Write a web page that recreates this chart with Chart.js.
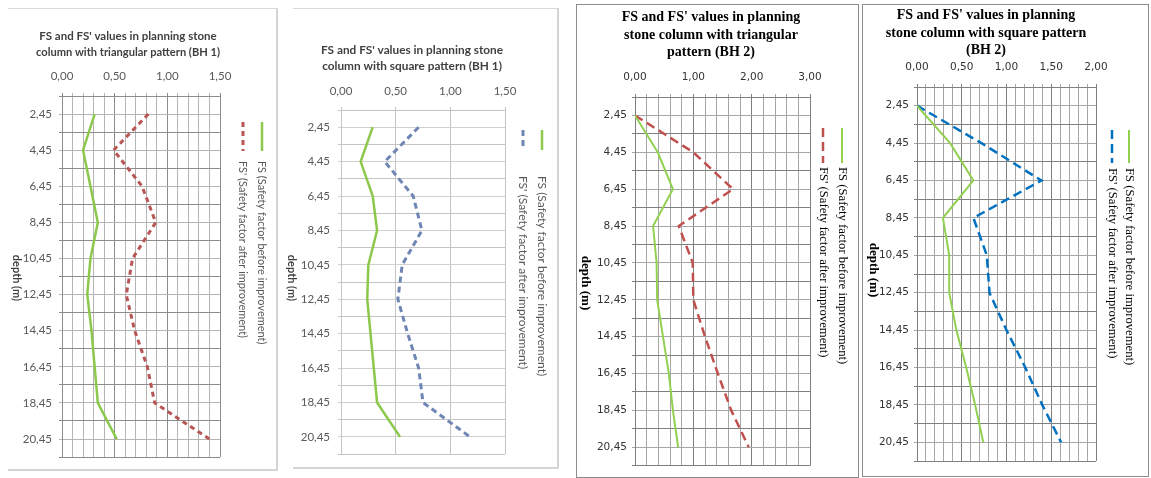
<!DOCTYPE html>
<html><head><meta charset="utf-8">
<script src="https://cdn.jsdelivr.net/npm/chart.js@4.4.1/dist/chart.umd.min.js"></script>
<style>
html,body{margin:0;padding:0;background:#fff;width:1151px;height:478px;overflow:hidden;position:relative}
.frame{position:absolute;box-sizing:border-box}
canvas{position:absolute}
</style></head><body>
<div class="frame" style="left:8px;top:8px;width:270px;height:463px;border-top:1px solid #d9d9d9;border-right:2px solid #d4d4d4;border-bottom:2px solid #d4d4d4"></div>
<div class="frame" style="left:293px;top:8px;width:266px;height:461px;border-top:1px solid #d9d9d9;border-right:2px solid #d4d4d4;border-bottom:2px solid #d4d4d4"></div>
<div class="frame" style="left:576px;top:4px;width:283px;height:474px;border:1.5px solid #8c8c8c"></div>
<div class="frame" style="left:862px;top:4px;width:287px;height:473px;border:1.5px solid #8c8c8c"></div>
<canvas id="c1" width="278" height="463" style="left:0;top:8px;filter:blur(0.45px)"></canvas>
<canvas id="c2" width="274" height="461" style="left:285px;top:8px;filter:blur(0.45px)"></canvas>
<canvas id="c3" width="282" height="472" style="left:577px;top:5px"></canvas>
<canvas id="c4" width="286" height="472" style="left:863px;top:5px"></canvas>
<script>
// ---- data ----
const depths = [2.45, 4.45, 6.45, 8.45, 10.45, 12.45, 14.45, 16.45, 18.45, 20.45];
const depthTickLabels = ['2,45','4,45','6,45','8,45','10,45','12,45','14,45','16,45','18,45','20,45'];
const seriesLabels = ['FS (Safety factor before improvement)', "FS' (Safety factor after improvement)"];
const axisTitle = 'depth (m)';

const fsBH1Tri      = [0.31, 0.20, 0.27, 0.34, 0.27, 0.24, 0.28, 0.31, 0.34, 0.52];
const fsPrimeBH1Tri = [0.82, 0.49, 0.76, 0.89, 0.67, 0.61, 0.69, 0.81, 0.88, 1.40];
const fsBH1Sq       = [0.29, 0.18, 0.29, 0.33, 0.25, 0.24, 0.27, 0.30, 0.33, 0.54];
const fsPrimeBH1Sq  = [0.71, 0.40, 0.66, 0.74, 0.56, 0.52, 0.61, 0.71, 0.75, 1.18];
const fsBH2Tri      = [0.00, 0.39, 0.65, 0.31, 0.37, 0.38, 0.48, 0.58, 0.65, 0.74];
const fsPrimeBH2Tri = [0.00, 1.00, 1.68, 0.75, 0.99, 1.00, 1.20, 1.42, 1.65, 1.95];
const fsBH2Sq       = [0.00, 0.37, 0.63, 0.29, 0.36, 0.36, 0.44, 0.55, 0.65, 0.74];
const fsPrimeBH2Sq  = [0.00, 0.72, 1.39, 0.63, 0.78, 0.81, 1.00, 1.21, 1.40, 1.61];

const xTicksBH1 = [0, 0.5, 1, 1.5];
const xTickLabelsBH1 = ['0,00', '0,50', '1,00', '1,50'];
const xTicksBH2Tri = [0, 1, 2, 3];
const xTickLabelsBH2Tri = ['0,00', '1,00', '2,00', '3,00'];
const xTicksBH2Sq = [0, 0.5, 1, 1.5, 2];
const xTickLabelsBH2Sq = ['0,00', '0,50', '1,00', '1,50', '2,00'];

const titles = [
  ["FS and FS' values in planning stone", 'column with triangular pattern (BH 1)'],
  ["FS and FS' values in planning stone", 'column with square pattern (BH 1)'],
  ["FS and FS' values in planning", 'stone column with triangular', 'pattern (BH 2)'],
  ["FS and FS' values in planning", 'stone column with square pattern', '(BH 2)']
];

// ---- helpers ----
const pts = (vals) => vals.map((v, i) => ({x: v, y: depths[i]}));
const near = (a, b) => Math.abs(a - b) < 1e-6;

const sideText = {
  id: 'sideText',
  afterLayout(chart) {
    // let the depth tick labels extend left of the (narrow) axis box without being clipped
    chart.scales.y.left = 0;
  },
  afterDraw(chart, args, o) {
    const ctx = chart.ctx;
    ctx.save();
    ctx.font = o.titleFont; ctx.fillStyle = o.titleColor;
    ctx.translate(o.titleX, o.titleY); ctx.rotate(Math.PI / 2);
    ctx.textAlign = 'center'; ctx.textBaseline = 'middle';
    ctx.fillText(o.axisTitle, 0, 0);
    ctx.restore();
    chart.data.datasets.forEach((ds, i) => {
      const x = o.legendX[i];
      ctx.save();
      ctx.strokeStyle = ds.borderColor; ctx.lineWidth = ds.borderWidth;
      ctx.setLineDash(ds.borderDash || []);
      ctx.beginPath(); ctx.moveTo(x, o.sampleY0); ctx.lineTo(x, o.sampleY1); ctx.stroke();
      ctx.setLineDash([]);
      ctx.translate(x, o.textY); ctx.rotate(Math.PI / 2);
      ctx.font = o.legendFont; ctx.fillStyle = o.legendColor;
      ctx.textAlign = 'left'; ctx.textBaseline = 'middle';
      ctx.fillText(ds.label, 0, 0);
      ctx.restore();
    });
  }
};

function build(id, p) {
  const xTickVals = [];
  for (let i = 0; i <= Math.round(p.xMax / p.xMinor); i++) xTickVals.push(Math.round(i * p.xMinor * 1000) / 1000);
  const yTickVals = [];
  for (let i = 0; i <= 20; i++) yTickVals.push(Math.round((1.45 + i) * 100) / 100);
  return new Chart(document.getElementById(id), {
    type: 'line',
    data: {
      datasets: [
        {label: seriesLabels[0], data: pts(p.fs), borderColor: p.green, borderWidth: p.gw, pointRadius: 0, fill: false, tension: 0},
        {label: seriesLabels[1], data: pts(p.fsp), borderColor: p.c2, borderWidth: p.dw, borderDash: p.dash, pointRadius: 0, fill: false, tension: 0}
      ]
    },
    options: {
      responsive: false, animation: false, devicePixelRatio: 1, indexAxis: 'y',
      layout: {padding: p.pad, autoPadding: false},
      plugins: {
        legend: {display: false}, tooltip: {enabled: false},
        title: {display: true, text: p.title, color: p.titleColor,
          font: {family: p.titleFamily, size: p.titleSize, weight: 'bold', lineHeight: p.titleLH},
          padding: {top: p.titlePadTop, bottom: 0}},
        sideText: p.side
      },
      scales: {
        x: {
          type: 'linear', position: 'top', min: 0, max: p.xMax,
          afterBuildTicks: (s) => { s.ticks = xTickVals.map(v => ({value: v})); },
          afterFit: (s) => { s.height = p.xAxisH; },
          ticks: {autoSkip: false, maxRotation: 0, minRotation: 0, padding: p.xPad, color: p.tickColor,
            font: {family: p.tickFamily, size: p.tickSize},
            callback: (v) => { const i = p.xMajors.findIndex(m => near(m, v)); return i >= 0 ? p.xLabels[i] : ''; }},
          grid: {tickLength: 3,
            color: (c) => p.xMajors.some(m => near(m, c.tick.value)) ? p.gridMajor : (p.xMinorShow ? p.gridMinor : 'rgba(0,0,0,0)')},
          border: {display: true, color: p.gridMajor}
        },
        y: {
          type: 'linear', reverse: true, min: 1.45, max: 21.45,
          afterBuildTicks: (s) => { s.ticks = yTickVals.map(v => ({value: v})); },
          afterFit: (s) => { s.width = p.yAxisW; },
          ticks: {autoSkip: false, padding: p.yPad, color: p.tickColor,
            font: {family: p.tickFamily, size: p.tickSize},
            callback: (v) => { const i = depths.findIndex(d => near(d, v)); return i >= 0 ? depthTickLabels[i] : ''; }},
          grid: {tickLength: 3,
            color: (c) => depths.some(d => near(d, c.tick.value)) ? p.gridRowMinor : p.gridMajor},
          border: {display: true, color: p.gridMajor}
        }
      }
    },
    plugins: [sideText]
  });
}

const sansGray = '#595959';
build('c1', {
  fs: fsBH1Tri, fsp: fsPrimeBH1Tri, green: '#8cc84b', c2: '#b85555', gw: 2.5, dw: 3, dash: [5, 4],
  xMax: 1.5, xMinor: 0.1, xMajors: xTicksBH1, xLabels: xTickLabelsBH1, xMinorShow: true,
  pad: {left: 36, right: 58, top: 0, bottom: 7}, title: titles[0], titleColor: '#404040',
  titleFamily: 'Lato', titleSize: 11.5, titleLH: 16 / 11.5, titlePadTop: 20,
  xAxisH: 36, yAxisW: 26, xPad: 10, yPad: 7, tickColor: sansGray, tickFamily: 'Lato', tickSize: 11.5,
  gridMajor: '#8c8c8c', gridMinor: '#b4b4b4', gridRowMinor: '#b4b4b4',
  side: {axisTitle: axisTitle, titleFont: 'bold 11px Lato', titleColor: '#404040', titleX: 17, titleY: 270,
    legendX: [262, 243], sampleY0: 114, sampleY1: 143, textY: 153, legendFont: '11px Lato', legendColor: sansGray}
});
build('c2', {
  fs: fsBH1Sq, fsp: fsPrimeBH1Sq, green: '#8cc84b', c2: '#6f86b5', gw: 2.5, dw: 3, dash: [6, 4],
  xMax: 1.5, xMinor: 0.5, xMajors: xTicksBH1, xLabels: xTickLabelsBH1, xMinorShow: false,
  pad: {left: 34, right: 54, top: 0, bottom: 9}, title: titles[1], titleColor: '#404040',
  titleFamily: 'Lato', titleSize: 11.8, titleLH: 16 / 11.8, titlePadTop: 34,
  xAxisH: 36, yAxisW: 22, xPad: 9, yPad: 8, tickColor: sansGray, tickFamily: 'Lato', tickSize: 11.5,
  gridMajor: '#c4c4c4', gridMinor: '#d4d4d4', gridRowMinor: '#d0d0d0',
  side: {axisTitle: axisTitle, titleFont: 'bold 11px Lato', titleColor: '#404040', titleX: 7, titleY: 270,
    legendX: [257, 238], sampleY0: 122, sampleY1: 142, textY: 168, legendFont: '12px Lato', legendColor: sansGray}
});
build('c3', {
  fs: fsBH2Tri, fsp: fsPrimeBH2Tri, green: '#92d050', c2: '#c0504d', gw: 2, dw: 2.5, dash: [9, 5],
  xMax: 3, xMinor: 0.2, xMajors: xTicksBH2Tri, xLabels: xTickLabelsBH2Tri, xMinorShow: true,
  pad: {left: 35, right: 49, top: 0, bottom: 11}, title: titles[2], titleColor: '#000',
  titleFamily: 'Liberation Serif', titleSize: 14, titleLH: 1.25, titlePadTop: 4,
  xAxisH: 35.5, yAxisW: 23, xPad: 10, yPad: 5, tickColor: '#333', tickFamily: 'DejaVu Sans', tickSize: 10.5,
  gridMajor: '#7f7f7f', gridMinor: '#a6a6a6', gridRowMinor: '#a6a6a6',
  side: {axisTitle: axisTitle, titleFont: 'bold 13px "Liberation Serif"', titleColor: '#000', titleX: 8, titleY: 278,
    legendX: [265, 246], sampleY0: 123, sampleY1: 158, textY: 162, legendFont: '12.7px "Liberation Serif"', legendColor: '#000'}
});
build('c4', {
  fs: fsBH2Sq, fsp: fsPrimeBH2Sq, green: '#92d050', c2: '#0070c0', gw: 2, dw: 2.5, dash: [9, 5],
  xMax: 2, xMinor: 0.1, xMajors: xTicksBH2Sq, xLabels: xTickLabelsBH2Sq, xMinorShow: true,
  pad: {left: 13, right: 53, top: 0, bottom: 16}, title: titles[3], titleColor: '#000',
  titleFamily: 'Liberation Serif', titleSize: 14, titleLH: 1.25, titlePadTop: 2,
  xAxisH: 27.5, yAxisW: 41, xPad: 10, yPad: 5, tickColor: '#333', tickFamily: 'DejaVu Sans', tickSize: 10.5,
  gridMajor: '#7f7f7f', gridMinor: '#a6a6a6', gridRowMinor: '#a6a6a6',
  side: {axisTitle: axisTitle, titleFont: 'bold 13px "Liberation Serif"', titleColor: '#000', titleX: 10, titleY: 265,
    legendX: [266, 249], sampleY0: 125, sampleY1: 158, textY: 163, legendFont: '12.7px "Liberation Serif"', legendColor: '#000'}
});
</script>
</body></html>
